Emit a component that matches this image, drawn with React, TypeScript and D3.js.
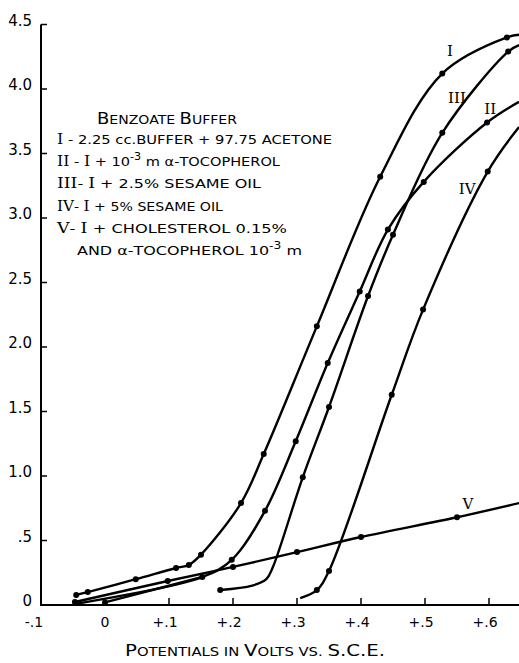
import React, { useEffect, useRef } from 'react';
import * as d3 from 'd3';

// tick values and labels
const xTicks = [-0.1, 0, 0.1, 0.2, 0.3, 0.4, 0.5, 0.6];
const xTickLabels = ['-.1', '0', '+.1', '+.2', '+.3', '+.4', '+.5', '+.6'];
const yTicks = [0, 0.5, 1.0, 1.5, 2.0, 2.5, 3.0, 3.5, 4.0, 4.5];
const yTickLabels = ['0', '.5', '1.0', '1.5', '2.0', '2.5', '3.0', '3.5', '4.0', '4.5'];

// curves: [potential, reading, marked point 1/0]
const curveI = [
  [-0.045, 0.078, 1], [-0.027, 0.10, 1], [0.048, 0.20, 1], [0.111, 0.287, 1],
  [0.131, 0.31, 1], [0.150, 0.39, 1], [0.2125, 0.79, 1], [0.248, 1.17, 1],
  [0.331, 2.16, 1], [0.430, 3.32, 1], [0.527, 4.12, 1], [0.628, 4.40, 1], [0.647, 4.42, 0],
];
const curveII = [
  [-0.047, 0.008, 0], [0.152, 0.217, 1], [0.198, 0.35, 1], [0.25, 0.73, 1],
  [0.298, 1.27, 1], [0.348, 1.876, 1], [0.398, 2.43, 1], [0.442, 2.91, 1],
  [0.498, 3.28, 1], [0.597, 3.74, 1], [0.647, 3.90, 0],
];
// short second trace that joins II
const curveIIb = [[0.0, 0.02, 1], [0.152, 0.217, 0]];
const curveIII = [
  [0.18, 0.116, 1], [0.23, 0.15, 0], [0.252, 0.20, 0], [0.262, 0.29, 0],
  [0.309, 0.99, 1], [0.35, 1.535, 1], [0.411, 2.395, 1], [0.45, 2.87, 1],
  [0.527, 3.66, 1], [0.63, 4.29, 1], [0.647, 4.34, 0],
];
const curveIV = [
  [0.305, 0.054, 0], [0.331, 0.116, 1], [0.35, 0.264, 1], [0.448, 1.63, 1],
  [0.497, 2.29, 1], [0.598, 3.36, 1], [0.647, 3.705, 0],
];
const curveV = [
  [-0.047, 0.023, 1], [0.098, 0.186, 1], [0.2, 0.295, 1], [0.3, 0.41, 1],
  [0.4, 0.527, 1], [0.55, 0.68, 1], [0.647, 0.79, 0],
];
const curves = [curveI, curveII, curveIIb, curveIII, curveIV, curveV];

// curve labels at [x, y] in data units
const curveLabels = [
  ['I', 0.539, 4.30], ['III', 0.55, 3.94], ['II', 0.602, 3.85], ['IV', 0.566, 3.23], ['V', 0.567, 0.79],
];

// legend lines: segments of [text, kind] where kind s = serif numeral, p = superscript
const legendLines = [
  [['I', 's'], [' - 2.25 cc.BUFFER + 97.75 ACETONE', '']],
  [['II', 's'], [' - ', ''], ['I', 's'], [' + 10', ''], ['-3', 'p'], [' m α-TOCOPHEROL', '']],
  [['III', 's'], ['- ', ''], ['I', 's'], [' + 2.5%  SESAME OIL', '']],
  [['IV', 's'], ['- ', ''], ['I', 's'], [' + 5% SESAME  OIL', '']],
  [['V', 's'], ['- ', ''], ['I', 's'], [' + CHOLESTEROL  0.15%', '']],
  [['AND α-TOCOPHEROL  10', ''], ['-3', 'p'], [' m', '']],
];
const legendX = [57, 57, 57, 57, 57, 77];
const legendEnd = [332, 280, 261, 223, 287, 302];

const W = 519;
const H = 663;

const App = () => {
  const svgRef = useRef(null);

  useEffect(() => {
    const svg = d3.select(svgRef.current);
    svg.selectAll('*').remove();

    const x = d3.scaleLinear().domain([-0.1, 0.6]).range([41, 489]);
    const y = d3.scaleLinear().domain([0, 4.5]).range([605, 24.5]);
    const sans = '"DejaVu Sans", sans-serif';
    const serif = '"DejaVu Serif", "Liberation Serif", serif';

    // axes
    svg.append('line').attr('x1', x(-0.1)).attr('x2', W).attr('y1', y(0)).attr('y2', y(0))
      .attr('stroke', '#000').attr('stroke-width', 2);
    svg.append('line').attr('x1', x(-0.1)).attr('x2', x(-0.1)).attr('y1', y(0) + 1).attr('y2', y(4.5))
      .attr('stroke', '#000').attr('stroke-width', 2);

    yTicks.forEach((t, i) => {
      if (t > 0) {
        svg.append('line').attr('x1', x(-0.1)).attr('x2', x(-0.1) + 6).attr('y1', y(t)).attr('y2', y(t))
          .attr('stroke', '#000').attr('stroke-width', 1.5);
      }
      svg.append('text').attr('x', 32).attr('y', y(t) + 1).attr('text-anchor', 'end')
        .attr('font-family', sans).attr('font-size', 15).text(yTickLabels[i]);
    });

    xTicks.forEach((t, i) => {
      if (t > -0.1) {
        svg.append('line').attr('x1', x(t)).attr('x2', x(t)).attr('y1', y(0)).attr('y2', y(0) - 7)
          .attr('stroke', '#000').attr('stroke-width', 1.5);
      }
      svg.append('text').attr('x', x(t) - (i === 0 ? 7 : i === 1 ? 0 : 4)).attr('y', 627).attr('text-anchor', 'middle')
        .attr('font-family', sans).attr('font-size', 14).text(xTickLabels[i]);
    });

    // curves
    const line = d3.line()
      .x((d) => x(d[0]))
      .y((d) => y(d[1]))
      .curve(d3.curveCatmullRom.alpha(0.5));

    curves.forEach((c) => {
      svg.append('path').datum(c).attr('d', line)
        .attr('fill', 'none').attr('stroke', '#000').attr('stroke-width', 2.4);
      svg.selectAll(null).data(c.filter((d) => d[2] === 1)).enter().append('circle')
        .attr('cx', (d) => x(d[0])).attr('cy', (d) => y(d[1])).attr('r', 3).attr('fill', '#000');
    });

    curveLabels.forEach(([t, lx, ly]) => {
      svg.append('text').attr('x', x(lx)).attr('y', y(ly) + 6).attr('text-anchor', 'middle')
        .attr('font-family', serif).attr('font-size', 15).text(t);
    });

    // legend heading
    const head = svg.append('text').attr('x', 97).attr('y', 124).attr('font-family', sans)
      .attr('textLength', 140).attr('lengthAdjust', 'spacingAndGlyphs');
    [['B', 16], ['ENZOATE ', 12.5], ['B', 16], ['UFFER', 12.5]].forEach(([t, s]) => {
      head.append('tspan').attr('font-size', s).text(t);
    });

    legendLines.forEach((segs, i) => {
      const tx = svg.append('text').attr('x', legendX[i]).attr('y', 144 + i * 22.2)
        .attr('font-family', sans).attr('font-size', 13)
        .attr('textLength', legendEnd[i] - legendX[i]).attr('lengthAdjust', 'spacingAndGlyphs');
      let raised = false;
      segs.forEach(([t, k]) => {
        const sp = tx.append('tspan').text(t);
        if (k === 's') sp.attr('font-family', serif).attr('font-size', 14);
        if (k === 'p') { sp.attr('font-size', 10).attr('dy', -6); raised = true; }
        else if (raised) { sp.attr('dy', 6); raised = false; }
      });
    });

    // x axis title
    const title = svg.append('text').attr('x', 125).attr('y', 656).attr('font-family', sans)
      .attr('textLength', 260).attr('lengthAdjust', 'spacingAndGlyphs');
    [['P', 16], ['OTENTIALS IN ', 12], ['V', 16], ['OLTS VS. ', 12], ['S.C.E.', 16]].forEach(([t, s]) => {
      title.append('tspan').attr('font-size', s).text(t);
    });
  }, []);

  return (
    <svg ref={svgRef} width={W} height={H}
      style={{ position: 'absolute', left: 0, top: 0, background: '#fff' }} />
  );
};

export default App;
